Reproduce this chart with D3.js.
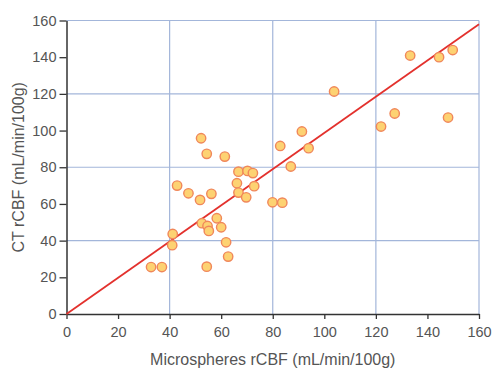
<!DOCTYPE html>
<html>
<head>
<meta charset="utf-8">
<script src="https://cdn.jsdelivr.net/npm/d3@7"></script>
<style>
  html, body { margin: 0; padding: 0; background: #fff; }
  svg { display: block; font-family: "Liberation Sans", Arial, sans-serif; }
</style>
</head>
<body>
<div id="chart"></div>
<script>
// ---- data ----
const microspheres = [52.2, 54.4, 61.4, 66.7, 70.2, 72.3, 66.1, 72.8, 42.9, 47.3,
                      56.2, 66.7, 69.7, 51.8, 58.3, 52.5, 54.7, 55.2, 60.0, 41.2,
                      41.0, 61.9, 62.7, 32.8, 37.0, 54.4, 133.3, 144.5, 149.8, 103.8,
                      127.3, 122.0, 148.0, 91.3, 82.9, 93.9, 87.0, 79.9, 83.7];
const ctRcbf =       [95.8, 87.3, 85.8, 77.6, 78.0, 76.8, 71.3, 69.7, 70.0, 65.8,
                      65.5, 66.2, 63.6, 62.2, 52.2, 49.5, 48.0, 45.3, 47.3, 43.6,
                      37.5, 39.1, 31.3, 25.6, 25.6, 25.8, 140.9, 140.0, 143.9, 121.3,
                      109.3, 102.2, 107.1, 99.5, 91.6, 90.4, 80.4, 60.9, 60.7];
const fitX = [0, 160];
const fitY = [0, 158];
const tickValues = [0, 20, 40, 60, 80, 100, 120, 140, 160];
const gridValues = [40, 80, 120, 160];

const W = 500, H = 376;
const M = { top: 20, right: 21, bottom: 62, left: 66 };

const svg = d3.select('#chart').append('svg')
  .attr('width', W).attr('height', H);

const x = d3.scaleLinear().domain([0, 160]).range([M.left + 0.5, W - M.right]);
const y = d3.scaleLinear().domain([0, 160]).range([H - M.bottom, M.top + 0.5]);

// grid
const grid = svg.append('g').attr('stroke', '#a3b6da').attr('stroke-width', 1.2);
grid.selectAll('.gx').data(gridValues).enter().append('line')
  .attr('x1', d => x(d)).attr('x2', d => x(d))
  .attr('y1', y(0)).attr('y2', y(160));
grid.selectAll('.gy').data(gridValues).enter().append('line')
  .attr('y1', d => y(d)).attr('y2', d => y(d))
  .attr('x1', x(0)).attr('x2', x(160));

// axes
const xAxis = svg.append('g')
  .attr('transform', `translate(0,${y(0)})`)
  .call(d3.axisBottom(x).tickValues(tickValues).tickSize(5).tickPadding(8).tickSizeOuter(0));
const yAxis = svg.append('g')
  .attr('transform', `translate(${x(0)},0)`)
  .call(d3.axisLeft(y).tickValues(tickValues).tickSize(7).tickPadding(3).tickSizeOuter(0));

[xAxis, yAxis].forEach(a => {
  a.select('.domain').attr('stroke', '#333').attr('stroke-width', 1.5);
  a.selectAll('.tick line').attr('stroke', '#333').attr('stroke-width', 1.3);
  a.selectAll('.tick text').attr('fill', '#555').style('font-size', '14.5px');
});

// identity / fit line
const line = d3.line().x(d => x(d[0])).y(d => y(d[1]));
svg.append('path').datum(d3.zip(fitX, fitY))
  .attr('fill', 'none').attr('stroke', '#e3312d').attr('stroke-width', 1.8)
  .attr('d', line);

// points
svg.append('g').selectAll('circle')
  .data(d3.zip(microspheres, ctRcbf)).enter()
  .append('circle')
  .attr('cx', d => x(d[0])).attr('cy', d => y(d[1]))
  .attr('r', 4.7)
  .attr('fill', '#fdd272')
  .attr('stroke', '#f0875a').attr('stroke-width', 1.4);

// axis titles
svg.append('text')
  .attr('x', (x(0) + x(160)) / 2).attr('y', 365)
  .attr('text-anchor', 'middle').attr('fill', '#555')
  .style('font-size', '16px')
  .text('Microspheres rCBF (mL/min/100g)');
svg.append('text')
  .attr('transform', `translate(23.5,${(y(0) + y(160)) / 2}) rotate(-90)`)
  .attr('text-anchor', 'middle').attr('fill', '#555')
  .style('font-size', '16px')
  .text('CT rCBF (mL/min/100g)');
</script>
</body>
</html>
